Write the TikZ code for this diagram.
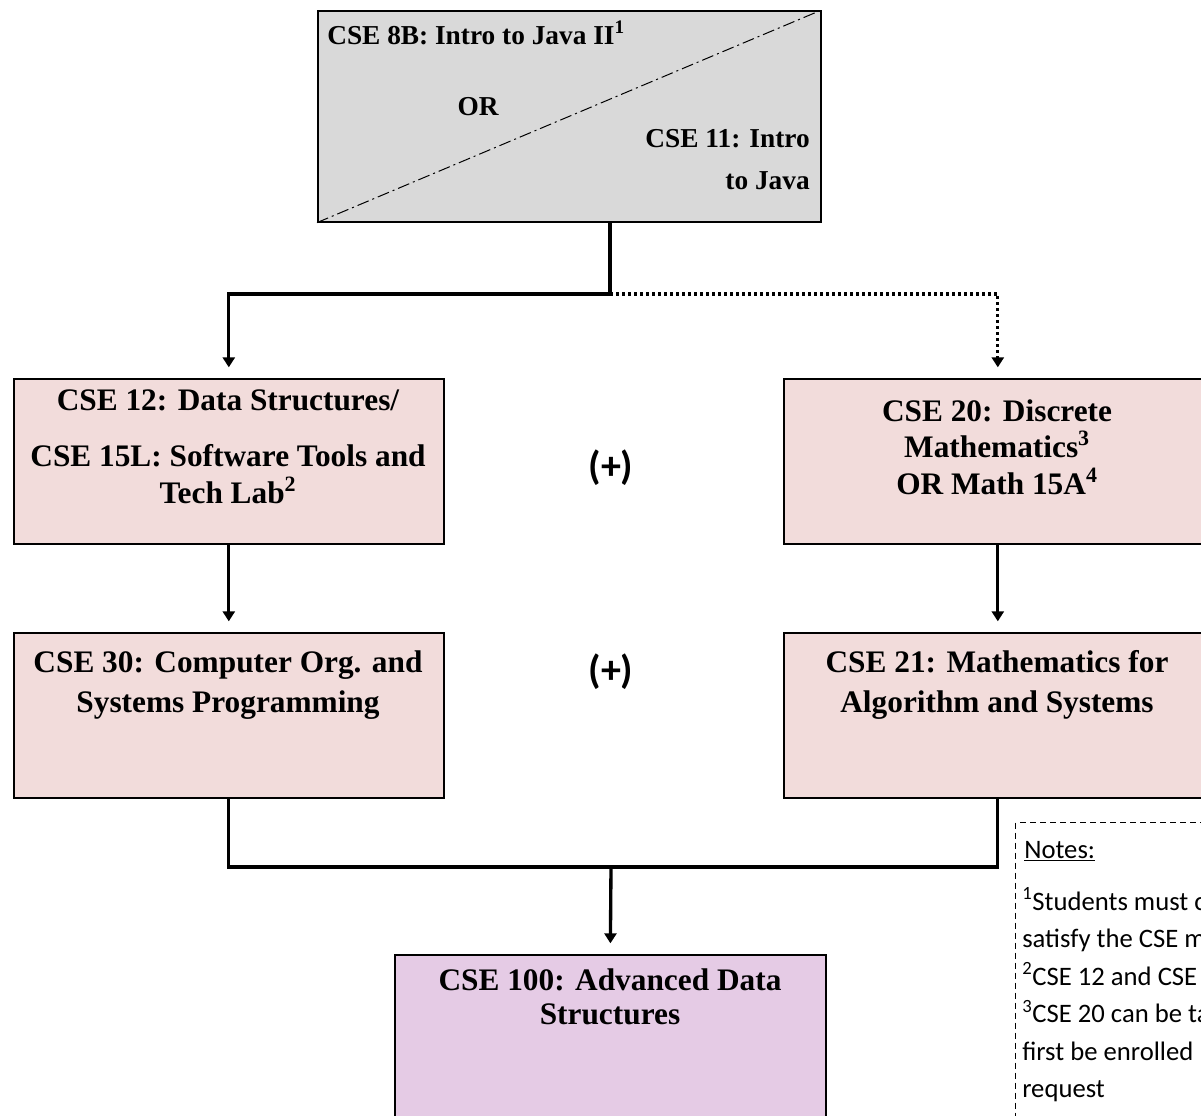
\documentclass[tikz,border=0pt]{standalone}
\usepackage{fontspec}
\setmainfont{Liberation Serif}
\newfontfamily\calib{Carlito}
\usetikzlibrary{arrows.meta}
\definecolor{topgray}{HTML}{D9D9D9}
\definecolor{boxpink}{HTML}{F2DCDB}
\definecolor{boxpurple}{HTML}{E5CBE5}
\begin{document}
\begin{tikzpicture}[x=0.75pt,y=-0.75pt,
  box/.style={draw=black, line width=1.2pt, inner sep=0pt, anchor=north west},
  btxt/.style={font=\fontsize{23.5}{27.5}\selectfont\bfseries, text width=335pt, align=flush center, inner sep=0pt, anchor=base},
  ttxt/.style={font=\fontsize{20.5}{24}\selectfont\bfseries, inner sep=0pt},
  ntxt/.style={font=\calib\fontsize{20}{24}\selectfont, inner sep=0pt, anchor=base west},
  plus/.style={font=\calib\bfseries\fontsize{30}{34}\selectfont, inner sep=0pt},
  conn/.style={line width=2.5pt},
  dotconn/.style={line width=2.5pt, dash pattern=on 2.4pt off 2.1pt},
  arr/.style={-{Triangle[length=7.5pt,width=9pt]}, shorten >=8pt}
]
\useasboundingbox (0,0) rectangle (1201,1115);
\clip (0,0) rectangle (1201,1115);
\fill[white] (0,0) rectangle (1201,1115);

% boxes
\node[box, fill=topgray, minimum width=377.25pt, minimum height=158.25pt] (top) at (317,10) {};
\draw[line width=0.75pt, dash pattern=on 9pt off 3pt on 1.5pt off 3pt] (top.south west) -- (top.north east);
\node[box, fill=boxpink, minimum width=322.5pt, minimum height=123.75pt] (c12) at (13,378) {};
\node[box, fill=boxpink, minimum width=321pt, minimum height=123.75pt] (c20) at (783,378) {};
\node[box, fill=boxpink, minimum width=322.5pt, minimum height=123.75pt] (c30) at (13,632) {};
\node[box, fill=boxpink, minimum width=321pt, minimum height=123.75pt] (c21) at (783,632) {};
\node[box, fill=boxpurple, minimum width=323.25pt, minimum height=150pt] (c100) at (394,954) {};
\node[draw=black, line width=0.9pt, dash pattern=on 4.5pt off 3pt, inner sep=0pt, anchor=north west, minimum width=187.5pt, minimum height=262.5pt] (notes) at (1015,822) {};

% top box texts
\node[ttxt, anchor=base west] (t8b) at (327,44) {CSE 8B: Intro to Java II\textsuperscript{1}};
\node[ttxt, anchor=base] (tor) at (478,115) {OR};
\node[ttxt, anchor=base east] (t11a) at (810,147) {CSE 11: Intro};
\node[ttxt, anchor=base east] (t11b) at (810,189) {to Java};

% course texts
\node[btxt] (t12) at (228,410) {CSE 12: Data Structures/\\[15pt]CSE 15L: Software Tools and\\Tech Lab\textsuperscript{2}};
\node[btxt] (t20) at (997,421) {CSE 20: Discrete\\Mathematics\textsuperscript{3}\\OR Math 15A\textsuperscript{4}};
\node[btxt, font=\fontsize{23.5}{30}\selectfont\bfseries] (t30) at (228,672) {CSE 30: Computer Org. and\\Systems Programming};
\node[btxt, font=\fontsize{23.5}{30}\selectfont\bfseries] (t21) at (997,672) {CSE 21: Mathematics for\\Algorithm and Systems};
\node[btxt, font=\fontsize{23.5}{26}\selectfont\bfseries] (t100) at (610,990) {CSE 100: Advanced Data\\Structures};

% plus signs
\node[plus] (p1) at (611,468) {(+)};
\node[plus] (p2) at (611,672) {(+)};

% notes
\node[ntxt] (n0) at (1024,858) {\underline{Notes:}};
\node[ntxt] (n1) at (1022,910) {\textsuperscript{1}Students must c};
\node[ntxt] (n2) at (1022,947.5) {satisfy the CSE m};
\node[ntxt] (n3) at (1022,985) {\textsuperscript{2}CSE 12 and CSE};
\node[ntxt] (n4) at (1022,1022.5) {\textsuperscript{3}CSE 20 can be ta};
\node[ntxt] (n5) at (1022,1060) {first be enrolled};
\node[ntxt] (n6) at (1022,1097.5) {request};

% connectors
\coordinate (j1) at (610,294);
\coordinate (j2) at (611,867);
\draw[conn] (j1 |- top.south) -- (j1);
\draw[conn, arr] (j1) -| (c12.north);
\draw[dotconn, arr] (j1) -| (c20.north);
\draw[conn, arr] (c12.south) -- (c30.north);
\draw[conn, arr] (c20.south) -- (c21.north);
\draw[conn] (c30.south) |- (j2) -| (c21.south);
\draw[conn, arr] (j2) -- (c100.north);
\end{tikzpicture}
\end{document}
